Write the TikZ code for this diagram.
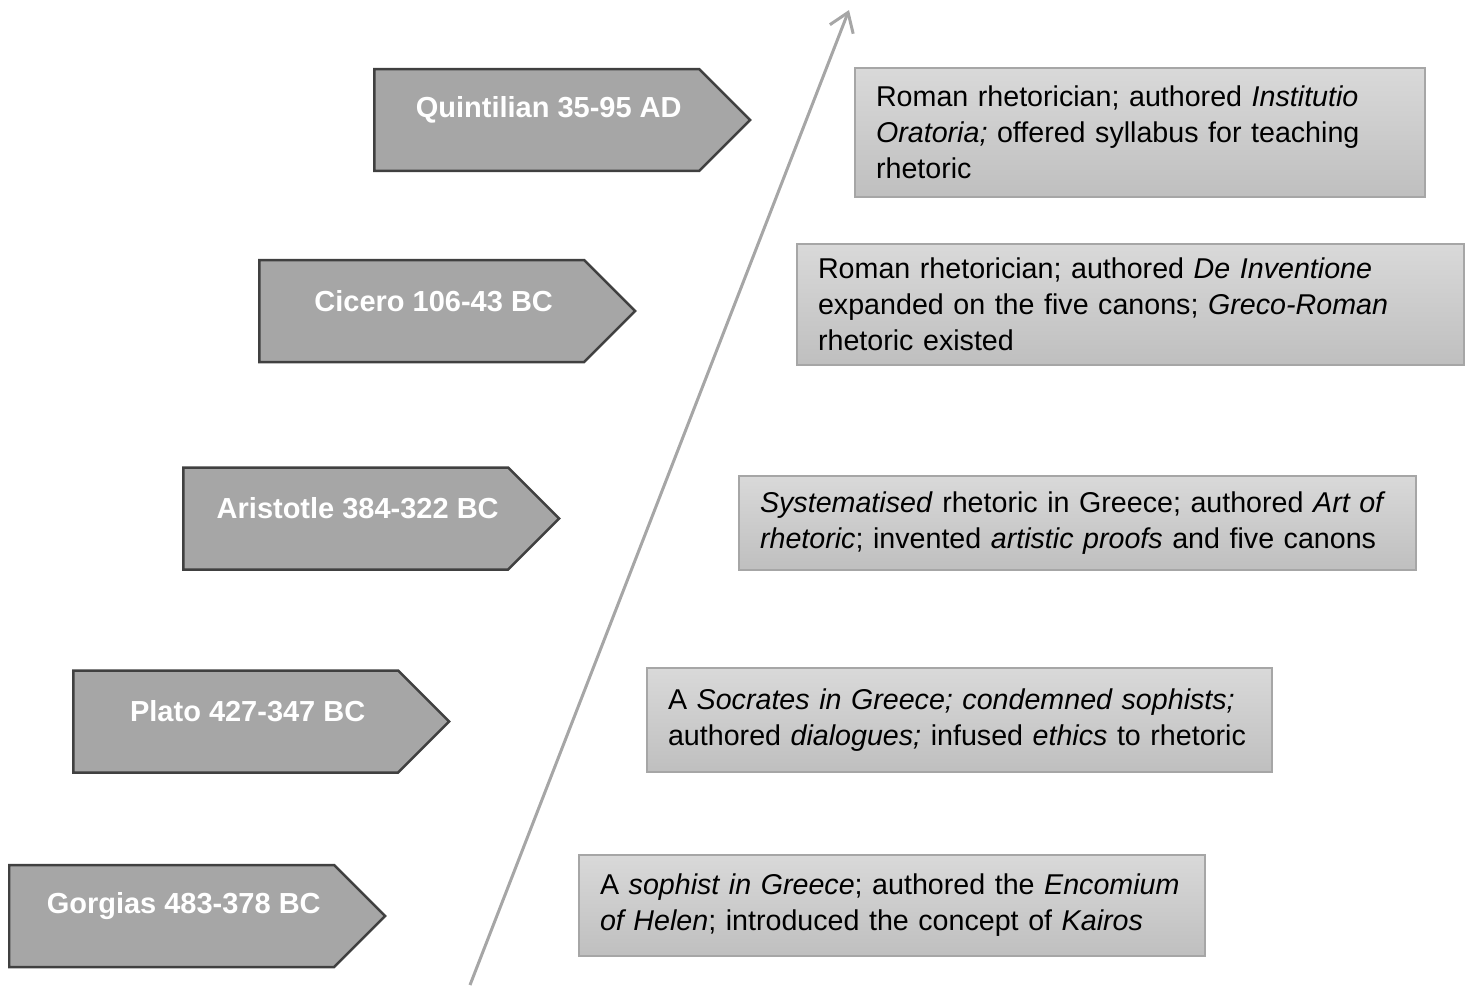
\documentclass[tikz,border=0pt]{standalone}
\usepackage{fontspec}
\setmainfont{Liberation Sans}
\usetikzlibrary{shapes.symbols,arrows.meta}
\definecolor{arrowgray}{HTML}{A6A6A6}
\definecolor{edgegray}{HTML}{404040}
\definecolor{boxtop}{HTML}{D9D9D9}
\definecolor{boxbottom}{HTML}{BFBFBF}
\begin{document}
\begin{tikzpicture}[x=0.02cm, y=-0.02cm,
	era/.style={signal, signal to=east, signal pointer angle=90, draw=edgegray, line width=0.05cm,
		fill=arrowgray, minimum width=7.52cm, minimum height=2.04cm, inner sep=0pt, anchor=west},
	eralabel/.style={text=white, font=\fontsize{16.5}{20}\selectfont\bfseries, xshift=0.24cm, yshift=0.2cm},
	note/.style={draw=arrowgray, line width=0.03cm, top color=boxtop, bottom color=boxbottom,
		inner xsep=0.42cm, inner ysep=0pt, align=left, font=\fontsize{16.3}{20.5}\selectfont},
	axis/.style={arrowgray, line width=0.06cm, -{Straight Barb[length=0.36cm, width=0.5cm, line width=0.06cm]}}]
	\useasboundingbox (0, 0) rectangle (1471, 985);
	% time axis
	\coordinate (tail) at (470, 985);
	\coordinate (head) at (849, 10);
	\draw[axis] (tail) to (head);
	% names and dates
	\node[era, label={[eralabel]center:Quintilian 35-95 AD}] (quintilian) at (373, 120) {};
	\node[era, label={[eralabel]center:Cicero 106-43 BC}] (cicero) at (258, 311) {};
	\node[era, label={[eralabel]center:Aristotle 384-322 BC}] (aristotle) at (182, 518.5) {};
	\node[era, label={[eralabel]center:Plato 427-347 BC}] (plato) at (72, 721.5) {};
	\node[era, label={[eralabel]center:Gorgias 483-378 BC}] (gorgias) at (8, 916) {};
	% notes
	\node[note, minimum width=11.4cm, minimum height=2.58cm, text width=10.56cm] (quintiliannote) at (1140, 132.5)
		{Roman rhetorician; authored \textit{Institutio}\\ \textit{Oratoria;} offered syllabus for teaching\\ rhetoric};
	\node[note, minimum width=13.34cm, minimum height=2.42cm, text width=12.5cm] (ciceronote) at (1130.5, 304.5)
		{Roman rhetorician; authored \textit{De Inventione}\\ expanded on the five canons; \textit{Greco-Roman}\\ rhetoric existed};
	\node[note, minimum width=13.54cm, minimum height=1.88cm, text width=12.7cm] (aristotlenote) at (1077.5, 523)
		{\textit{Systematised} rhetoric in Greece; authored \textit{Art of}\\ \textit{rhetoric}; invented \textit{artistic proofs} and five canons};
	\node[note, minimum width=12.5cm, minimum height=2.08cm, text width=11.66cm] (platonote) at (959.5, 720)
		{A \textit{Socrates in Greece; condemned sophists;}\\ authored \textit{dialogues;} infused \textit{ethics} to rhetoric};
	\node[note, minimum width=12.52cm, minimum height=2.02cm, text width=11.68cm] (gorgiasnote) at (892, 905.5)
		{A \textit{sophist in Greece}; authored the \textit{Encomium}\\ \textit{of Helen}; introduced the concept of \textit{Kairos}};
\end{tikzpicture}
\end{document}
